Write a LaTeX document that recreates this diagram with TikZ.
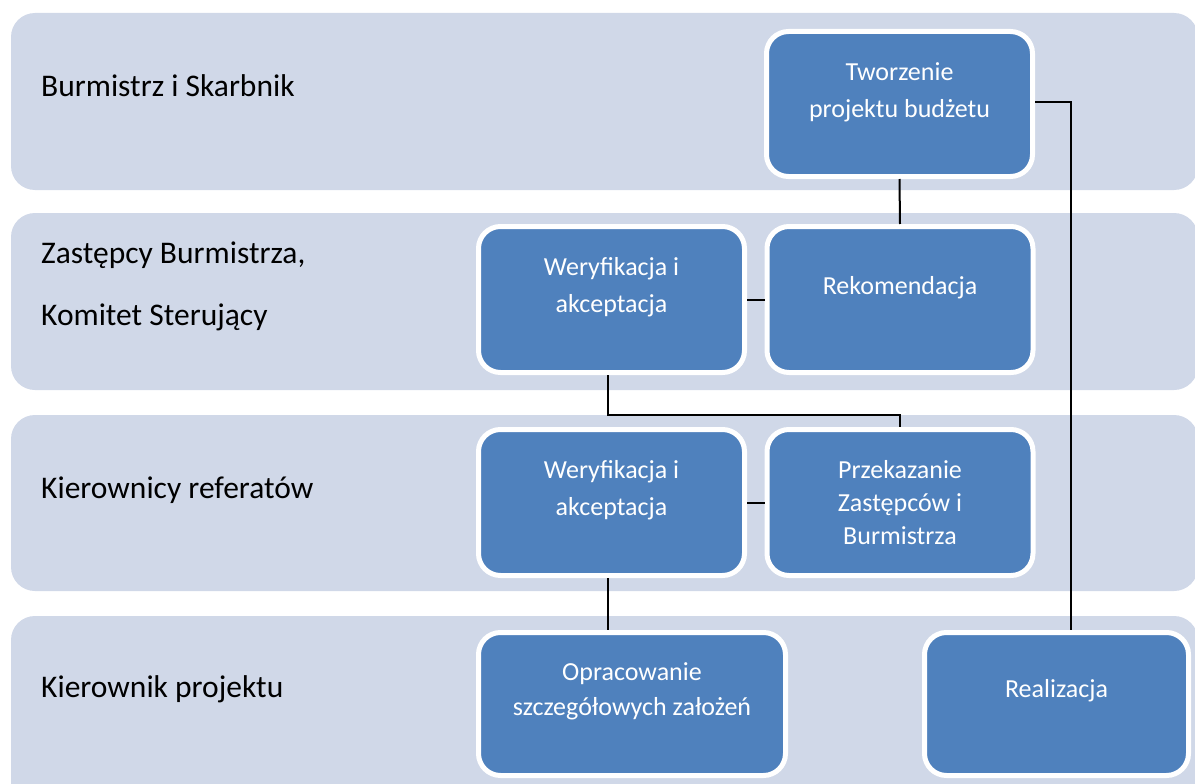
\documentclass[tikz,border=0pt]{standalone}
\usepackage{fontspec}
\setmainfont{Carlito}
\definecolor{lanefill}{HTML}{D0D8E8}
\definecolor{boxfill}{HTML}{4F81BD}
\begin{document}
\begin{tikzpicture}[x=1pt,y=-1pt,
  lane/.style={fill=lanefill,draw=none,rounded corners=24pt},
  lanetxt/.style={anchor=base west,inner sep=0pt,font=\fontsize{31.5}{38}\selectfont,text=black},
  stepbox/.style={fill=boxfill,draw=white,line width=5pt,rounded corners=22pt,
    minimum width=266pt,minimum height=146pt,inner sep=0pt,text=white,align=center,
    font=\fontsize{26}{33}\selectfont},
  lbl/.style={text=white,align=center,inner sep=0pt,font=\fontsize{26}{37}\selectfont},
  conn/.style={draw=black,line width=2pt}]
\useasboundingbox (0,0) rectangle (1195,784);
\clip (0,0) rectangle (1195,784);
\fill[white] (0,0) rectangle (1195,784);
% lanes
\path[lane] (11,13) rectangle (1198,190);
\path[lane] (11,213) rectangle (1198,390);
\path[lane] (11,415) rectangle (1198,591);
\path[lane] (11,616) rectangle (1198,820);
% lane labels
\node[lanetxt] (l1) at (41,96) {Burmistrz i Skarbnik};
\node[lanetxt] (l2a) at (41,263) {Zastępcy Burmistrza,};
\node[lanetxt] (l2b) at (41,325) {Komitet Sterujący};
\node[lanetxt] (l3) at (41,498) {Kierownicy referatów};
\node[lanetxt] (l4) at (41,697) {Kierownik projektu};
% boxes
\node[stepbox,minimum height=145pt,label={[lbl,yshift=12pt]center:{Tworzenie\\projektu budżetu}}] (tw) at (899.5,104) {};
\node[stepbox,label={[lbl,yshift=12pt]center:{Rekomendacja}}] (rek) at (900,299.5) {};
\node[stepbox,label={[lbl,yshift=12pt]center:{Weryfikacja i\\akceptacja}}] (wer1) at (611.5,299.5) {};
\node[stepbox,label={[lbl,yshift=12pt]center:{Weryfikacja i\\akceptacja}}] (wer2) at (611.5,502.5) {};
\node[stepbox] (prz) at (900,502.5) {Przekazanie\\Zastępców i\\Burmistrza};
\node[stepbox,minimum width=307pt,minimum height=143pt,
  label={[lbl,yshift=13pt,font=\fontsize{26}{35}\selectfont]center:{Opracowanie\\szczegółowych założeń}}] (opr) at (632,704) {};
\node[stepbox,minimum width=264pt,minimum height=143pt,label={[lbl,yshift=13pt]center:{Realizacja}}] (real) at (1056.5,704) {};
% connectors
\coordinate (bend) at (0,415);
\draw[conn] (tw.south) -- (rek.north);
\draw[conn] ([yshift=2pt]tw.east) -| ([xshift=14.5pt]real.north);
\draw[conn] (rek.west) -- (wer1.east);
\draw[conn] ([xshift=-4pt]wer1.south) |- (bend -| prz.north) -- (prz.north);
\draw[conn] (prz.west) -- (wer2.east);
\draw[conn] ([xshift=-4pt]wer2.south) -- ([xshift=-4pt]wer2.south |- opr.north);
\end{tikzpicture}
\end{document}
